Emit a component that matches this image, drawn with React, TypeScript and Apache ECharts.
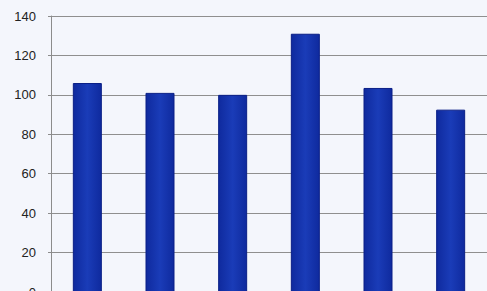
import React, { useEffect, useRef } from "react";
import * as echarts from "echarts";

const categories = ["A", "B", "C", "D", "E", "F"];
const values = [106, 101, 100, 131, 103.5, 92.5];
const yTicks = { min: 0, max: 140, interval: 20 };

export default function App() {
  const ref = useRef<HTMLDivElement>(null);
  useEffect(() => {
    document.body.style.margin = "0";
    document.body.style.background = "#f4f6fc";
    const chart = echarts.init(ref.current!, null, { renderer: "svg" });
    chart.setOption({
      animation: false,
      backgroundColor: "#f4f6fc",
      grid: { left: 51, top: 16, right: -1, height: 276 },
      xAxis: {
        type: "category",
        data: categories,
        axisLine: { show: false },
        axisTick: { show: false },
        axisLabel: { show: false },
      },
      yAxis: {
        type: "value",
        min: yTicks.min,
        max: yTicks.max,
        interval: yTicks.interval,
        axisLine: { show: true, lineStyle: { color: "#8c8c8c", width: 1 } },
        axisTick: { show: true, length: 3, lineStyle: { color: "#8c8c8c" } },
        axisLabel: {
          margin: 15,
          color: "#222",
          fontSize: 13,
          fontFamily: "Liberation Sans",
        },
        splitLine: { show: true, lineStyle: { color: "#8f8f8f", width: 1 } },
      },
      series: [
        {
          type: "bar",
          data: values,
          barWidth: 29,
          itemStyle: {
            color: {
              type: "linear",
              x: 0,
              y: 0,
              x2: 1,
              y2: 0,
              colorStops: [
                { offset: 0, color: "#0f2a9e" },
                { offset: 0.5, color: "#1a3cb8" },
                { offset: 1, color: "#0f2a9e" },
              ],
            },
            borderColor: "#0a1f86",
            borderWidth: 1,
          },
        },
      ],
    });
    return () => chart.dispose();
  }, []);
  return <div ref={ref} style={{ width: 487, height: 330 }} />;
}
